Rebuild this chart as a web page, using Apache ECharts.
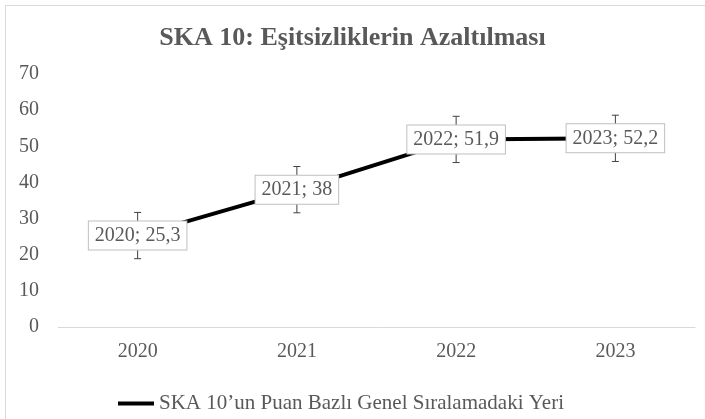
<!DOCTYPE html>
<html>
<head>
<meta charset="utf-8">
<script src="https://cdn.jsdelivr.net/npm/echarts@6/dist/echarts.min.js"></script>
<style>
  html, body { margin: 0; padding: 0; background: #fff; }
  #chart { width: 705px; height: 419px; }
</style>
</head>
<body>
<div id="chart"></div>
<script>
// yıllar
const years = ['2020', '2021', '2022', '2023']
// SKA 10 puan bazlı sıralama değerleri
const scores = [25.3, 38, 51.9, 52.2]
// hata çubukları (standart hata)
const errors = [6.4, 6.4, 6.4, 6.4]
const yTicks = [0, 10, 20, 30, 40, 50, 60, 70]

const font = 'Liberation Serif, Times New Roman, serif'
const legendName = 'SKA 10’un Puan Bazlı Genel Sıralamadaki Yeri'
const chart = echarts.init(document.getElementById('chart'))

const option = {
  backgroundColor: '#fff',
  animation: false,
  title: {
    text: 'SKA 10: Eşitsizliklerin Azaltılması',
    left: 'center',
    top: 20,
    textStyle: { fontFamily: font, fontSize: 26, fontWeight: 'bold', color: '#595959' },
  },
  graphic: [
    {
      type: 'rect',
      shape: { x: 5.5, y: 5.5, width: 720, height: 440 },
      style: { fill: null, stroke: '#d9d9d9', lineWidth: 1 },
      silent: true,
    },
  ],
  grid: { left: 58, right: 10, top: 74, bottom: 92 },
  legend: {
    bottom: 0,
    left: 113,
    itemWidth: 36,
    itemHeight: 4,
    itemGap: 0,
    textStyle: { fontFamily: font, fontSize: 21, color: '#595959' },
    data: [{ name: legendName, icon: 'rect' }],
  },
  xAxis: {
    type: 'category',
    data: years,
    boundaryGap: true,
    axisLine: { lineStyle: { color: '#d9d9d9', width: 1 } },
    axisTick: { show: false },
    axisLabel: { fontFamily: font, fontSize: 20, color: '#595959', margin: 15 },
  },
  yAxis: {
    type: 'value',
    min: yTicks[0],
    max: yTicks[yTicks.length - 1],
    interval: 10,
    splitLine: { show: false },
    axisLine: { show: false },
    axisTick: { show: false },
    axisLabel: { fontFamily: font, fontSize: 20, color: '#595959', margin: 19, align: 'right' },
  },
  series: [
    {
      name: legendName,
      type: 'line',
      data: scores,
      symbol: 'none',
      lineStyle: { color: '#000', width: 4 },
      itemStyle: { color: '#000' },
      z: 2,
    },
    {
      name: 'hata',
      type: 'custom',
      data: scores.map((v, i) => [i, v, errors[i]]),
      encode: { x: 0, y: 1 },
      z: 3,
      renderItem(params, api) {
        const i = api.value(0)
        const v = api.value(1)
        const e = api.value(2)
        const top = api.coord([i, v + e])
        const bot = api.coord([i, v - e])
        const w = 3.5
        const st = { stroke: '#404040', lineWidth: 1 }
        return {
          type: 'group',
          children: [
            { type: 'line', shape: { x1: top[0], y1: top[1], x2: bot[0], y2: bot[1] }, style: st },
            { type: 'line', shape: { x1: top[0] - w, y1: top[1], x2: top[0] + w, y2: top[1] }, style: st },
            { type: 'line', shape: { x1: bot[0] - w, y1: bot[1], x2: bot[0] + w, y2: bot[1] }, style: st },
          ],
        }
      },
    },
    {
      name: 'etiket',
      type: 'scatter',
      data: scores,
      symbolSize: 0,
      z: 5,
      itemStyle: { opacity: 1 },
      label: {
        show: true,
        position: 'inside',
        formatter: (p) => years[p.dataIndex] + '; ' + String(p.value).replace('.', ','),
        fontFamily: font,
        fontSize: 20,
        color: '#595959',
        backgroundColor: '#fff',
        borderColor: '#bfbfbf',
        borderWidth: 1,
        padding: [5, 6, 3, 6],
      },
    },
  ],
}
chart.setOption(option)
</script>
</body>
</html>
